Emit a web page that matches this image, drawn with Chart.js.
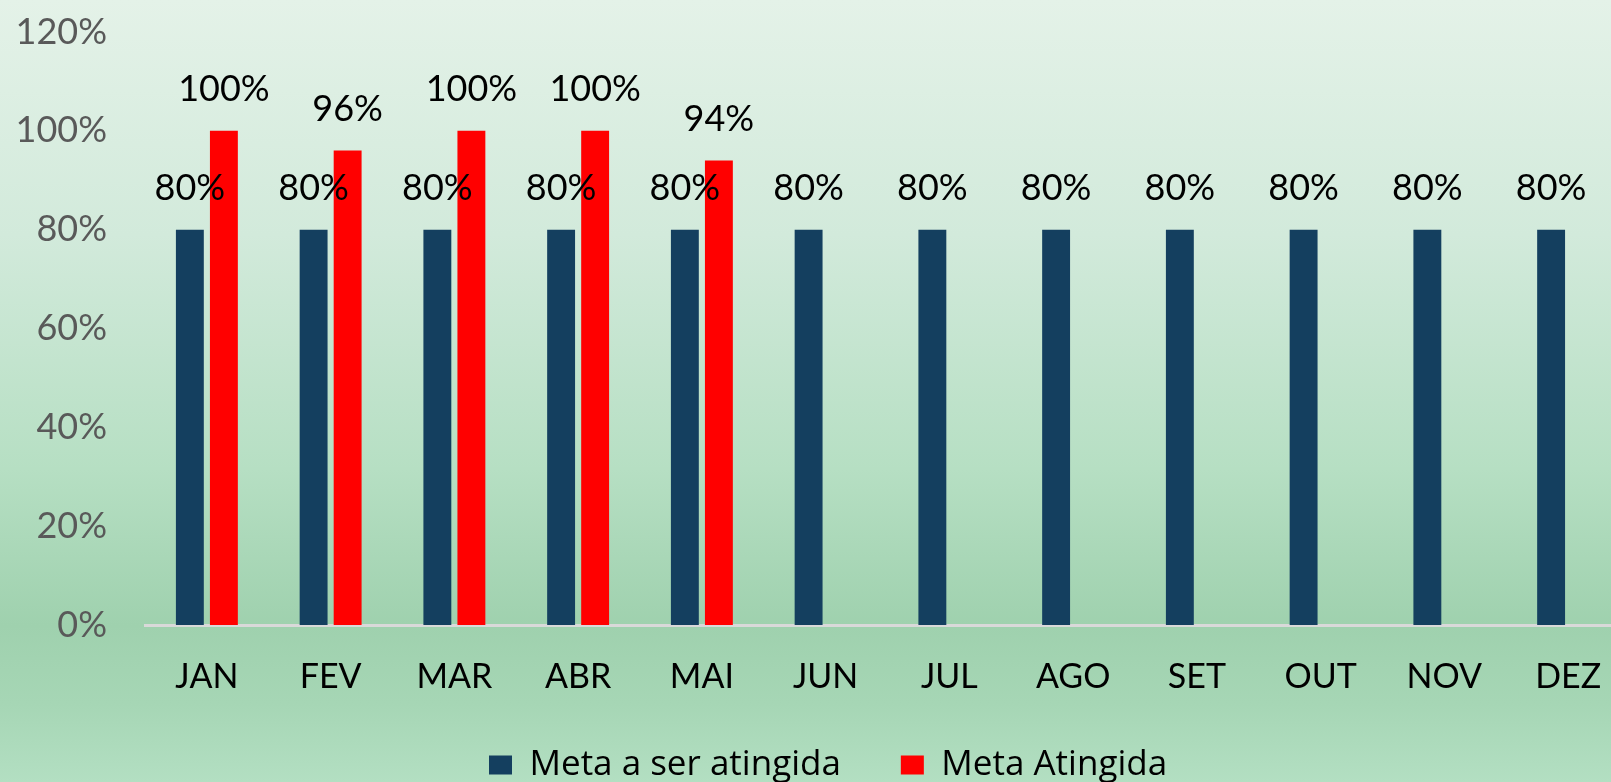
<!DOCTYPE html>
<html>
<head>
<meta charset="utf-8">
<script src="https://cdn.jsdelivr.net/npm/chart.js@4.4.1/dist/chart.umd.min.js"></script>
<style>
  html, body { margin: 0; padding: 0; overflow: hidden; width: 1611px; height: 782px; }
  #wrap {
    width: 1640px;
    height: 782px;
    background: linear-gradient(180deg, #e4f2e8 0%, #d2eadb 30%, #b6dfc3 60%, #9fd1ae 80%, #a6d6b5 90%, #b3dfc2 100%);
  }
</style>
</head>
<body>
<div id="wrap"><canvas id="grafico"></canvas></div>
<script>
// dados do gráfico
const meses = ['JAN', 'FEV', 'MAR', 'ABR', 'MAI', 'JUN', 'JUL', 'AGO', 'SET', 'OUT', 'NOV', 'DEZ'];
const metaASerAtingida = [80, 80, 80, 80, 80, 80, 80, 80, 80, 80, 80, 80];
const metaAtingida = [100, 96, 100, 100, 94, null, null, null, null, null, null, null];
const marcasY = [0, 20, 40, 60, 80, 100, 120];

// rótulos de valor acima das barras
const rotulos = {
  id: 'rotulos',
  afterDatasetsDraw(chart) {
    const ctx = chart.ctx;
    ctx.save();
    ctx.font = '36px Lato';
    ctx.fillStyle = '#000000';
    ctx.textAlign = 'center';
    ctx.textBaseline = 'middle';
    chart.data.datasets.forEach((ds, i) => {
      chart.getDatasetMeta(i).data.forEach((barra, j) => {
        const v = ds.data[j];
        if (v === null || v === undefined) return;
        ctx.fillText(v + '%', barra.x, barra.y - 41);
      });
    });
    ctx.restore();
  }
};

// posiciona a legenda como no original
const posLegenda = {
  id: 'posLegenda',
  afterLayout(chart) {
    const lg = chart.legend;
    const lab = lg.options.labels;
    const itemH = Math.max(lab.font.size, lab.boxHeight);
    const w = lg.right - lg.left;
    lg.left = 489 - lab.padding;
    lg.right = lg.left + w;
    lg.top = 765 - lab.padding - itemH / 2;
    lg.bottom = chart.height;
  }
};

const ctx = document.getElementById('grafico').getContext('2d');
new Chart(ctx, {
  type: 'bar',
  data: {
    labels: meses,
    datasets: [
      {
        label: 'Meta a ser atingida',
        data: metaASerAtingida,
        backgroundColor: '#143f5f',
        categoryPercentage: 0.55,
        barPercentage: 0.82
      },
      {
        label: 'Meta Atingida',
        data: metaAtingida,
        backgroundColor: '#ff0000',
        categoryPercentage: 0.55,
        barPercentage: 0.82
      }
    ]
  },
  options: {
    responsive: true,
    maintainAspectRatio: false,
    animation: false,
    layout: { padding: { top: 32, right: 10, bottom: 0, left: 0 } },
    plugins: {
      legend: {
        display: true,
        position: 'bottom',
        align: 'start',
        maxHeight: 82,
        labels: {
          boxWidth: 23,
          boxHeight: 19,
          padding: 60,
          color: '#000000',
          font: { family: "'Open Sans'", size: 35 }
        }
      },
      tooltip: { enabled: false }
    },
    scales: {
      x: {
        grid: { display: false, drawTicks: false },
        border: { display: true, color: '#d9d9d9', width: 3 },
        afterFit: (s) => { s.height = 75; },
        ticks: { color: '#000000', padding: 32, font: { family: 'Lato', size: 34 } }
      },
      y: {
        min: 0,
        max: 120,
        grid: { display: false, drawTicks: false },
        border: { display: false },
        afterBuildTicks: (s) => { s.ticks = marcasY.map(v => ({ value: v })); },
        afterFit: (s) => { s.width = 145; s.paddingTop = 21; s.paddingBottom = 21; },
        ticks: {
          color: '#595959',
          padding: 38,
          font: { family: 'Lato', size: 36 },
          callback: (v) => v + '%'
        }
      }
    }
  },
  plugins: [rotulos, posLegenda]
});
</script>
</body>
</html>
